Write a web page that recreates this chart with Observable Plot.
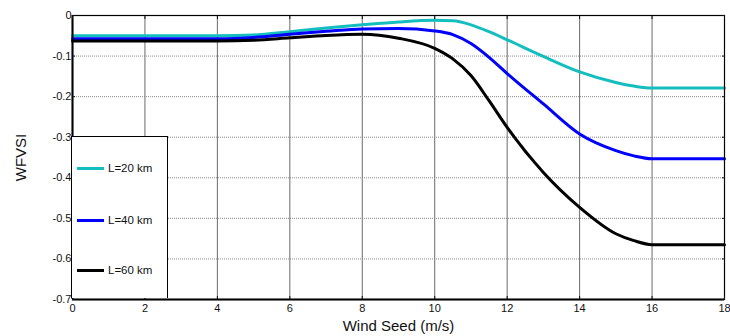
<!DOCTYPE html>
<html>
<head>
<meta charset="utf-8">
<script src="https://cdn.jsdelivr.net/npm/d3@7"></script>
<script src="https://cdn.jsdelivr.net/npm/@observablehq/plot@0.6"></script>
<style>
  html, body { margin: 0; padding: 0; background: #fff; }
  #wrap { position: relative; width: 730px; height: 336px; font-family: "Liberation Sans", Arial, sans-serif; }
  #legend { position: absolute; left: 71px; top: 136px; width: 97px; height: 162px; background: #fff; border: 1.5px solid #000; border-bottom: none; box-sizing: border-box; }
  .item { position: absolute; left: 5px; height: 14px; display: flex; align-items: center; font-size: 11.5px; color: #111; }
  .swatch { width: 27px; height: 0; border-top: 3px solid; margin-right: 4px; }
</style>
</head>
<body>
<div id="wrap"></div>
<script>
// ---- data ----
const speed = [0,1,2,3,4,5,6,7,8,9,10,10.5,11,11.5,12,13,14,15,15.5,16,17,18];
const l20 = [-0.050,-0.050,-0.050,-0.050,-0.050,-0.048,-0.040,-0.031,-0.023,-0.016,-0.012,-0.013,-0.023,-0.040,-0.060,-0.101,-0.139,-0.165,-0.174,-0.179,-0.179,-0.179];
const l40 = [-0.057,-0.057,-0.057,-0.057,-0.057,-0.054,-0.046,-0.039,-0.033,-0.032,-0.038,-0.047,-0.069,-0.103,-0.143,-0.218,-0.292,-0.333,-0.346,-0.353,-0.353,-0.353];
const l60 = [-0.063,-0.063,-0.063,-0.063,-0.063,-0.061,-0.055,-0.049,-0.046,-0.056,-0.081,-0.107,-0.148,-0.210,-0.276,-0.387,-0.473,-0.538,-0.555,-0.565,-0.565,-0.565];
const seriesNames = ["L=20 km", "L=40 km", "L=60 km"];
const seriesColors = ["#14BEBE", "#0000FF", "#000000"];
const xTicks = [0,2,4,6,8,10,12,14,16,18];
const yTicks = [0,-0.1,-0.2,-0.3,-0.4,-0.5,-0.6,-0.7];
const xLabel = "Wind Seed (m/s)";
const yLabel = "WFVSI";

const rows = [];
[l20, l40, l60].forEach((vals, si) => {
  vals.forEach((v, i) => rows.push({series: seriesNames[si], x: speed[i], y: v}));
});

const fmtY = d => d === 0 ? "0" : d.toFixed(1);

const chart = Plot.plot({
  width: 730,
  height: 336,
  marginLeft: 72,
  marginRight: 6,
  marginTop: 15,
  marginBottom: 37,
  style: {fontFamily: "Liberation Sans, Arial, sans-serif", fontSize: "11px", color: "#111", background: "#fff"},
  x: {domain: [0, 18]},
  y: {domain: [-0.7, 0]},
  color: {domain: seriesNames, range: seriesColors},
  marks: [
    Plot.gridX(xTicks, {stroke: "#6a6a6a", strokeOpacity: 1, strokeWidth: 1}),
    Plot.gridY(yTicks, {stroke: "#8a8a8a", strokeOpacity: 1, strokeWidth: 1, strokeDasharray: "1,1"}),
    Plot.line(rows, {x: "x", y: "y", z: "series", stroke: "series", strokeWidth: 3, curve: "monotone-x"}),
    Plot.frame({stroke: "#000", strokeWidth: 1.2}),
    Plot.ruleX([0], {stroke: "#000", strokeWidth: 2}),
    Plot.ruleY([-0.7], {stroke: "#000", strokeWidth: 2}),
    Plot.axisX(xTicks, {anchor: "bottom", tickSize: -3, tickPadding: 8, fontSize: 11, label: xLabel, labelAnchor: "center", labelOffset: 31}),
    Plot.axisX(xTicks, {anchor: "top", tickSize: -3, tickFormat: () => "", label: null}),
    Plot.axisY(yTicks, {anchor: "left", tickSize: -3, tickPadding: 4, fontSize: 11, tickFormat: fmtY, label: yLabel, labelAnchor: "center", labelOffset: 57}),
    Plot.axisY(yTicks, {anchor: "right", tickSize: -3, tickFormat: () => "", label: null})
  ]
});
chart.querySelectorAll("[aria-label='x-axis label'] text, [aria-label='y-axis label'] text").forEach(t => {
  t.style.fontSize = "15px";
  t.textContent = t.textContent.replace(/\s*[\u2192\u2191\u2190\u2193]\s*/g, "").trim();
});
document.getElementById("wrap").appendChild(chart);

const legend = document.createElement("div");
legend.id = "legend";
const itemTops = [24, 76, 126];
seriesNames.forEach((name, i) => {
  const it = document.createElement("div");
  it.className = "item";
  it.style.top = itemTops[i] + "px";
  const sw = document.createElement("span");
  sw.className = "swatch";
  sw.style.borderTopColor = seriesColors[i];
  const tx = document.createElement("span");
  tx.textContent = name;
  it.appendChild(sw);
  it.appendChild(tx);
  legend.appendChild(it);
});
document.getElementById("wrap").appendChild(legend);
</script>
</body>
</html>
